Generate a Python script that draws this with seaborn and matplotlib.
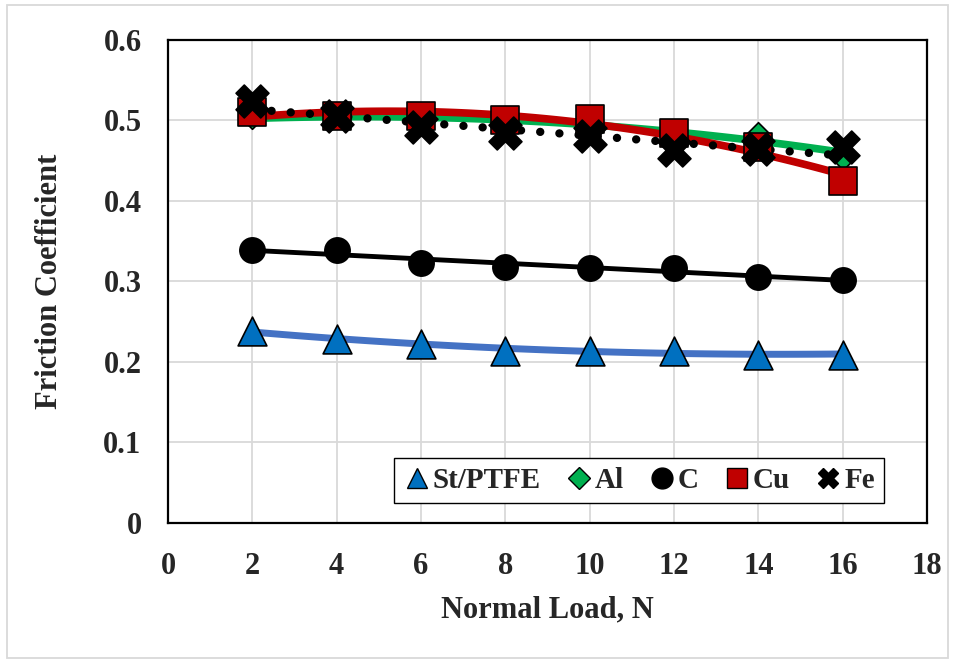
import numpy as np
import pandas as pd
import matplotlib.pyplot as plt
import seaborn as sns
from matplotlib.patches import Rectangle
from matplotlib.lines import Line2D

# data
load = [2, 4, 6, 8, 10, 12, 14, 16]
st_ptfe = [0.238, 0.229, 0.222, 0.214, 0.214, 0.214, 0.209, 0.209]
al = [0.505, 0.505, 0.498, 0.500, 0.497, 0.485, 0.482, 0.455]
c = [0.339, 0.339, 0.323, 0.318, 0.317, 0.317, 0.305, 0.302]
cu = [0.511, 0.506, 0.505, 0.501, 0.502, 0.484, 0.467, 0.425]
fe = [0.524, 0.505, 0.492, 0.484, 0.481, 0.463, 0.465, 0.467]

series = {"St/PTFE": st_ptfe, "Al": al, "C": c, "Cu": cu, "Fe": fe}
colors = {"St/PTFE": "#0070C0", "Al": "#00B050", "C": "#000000",
          "Cu": "#C00000", "Fe": "#000000"}
markers = {"St/PTFE": "^", "Al": "D", "C": "o", "Cu": "s", "Fe": "X"}
sizes = {"St/PTFE": 430, "Al": 170, "C": 330, "Cu": 380, "Fe": 560}

df = pd.concat([pd.DataFrame({"Load": load, "mu": v, "Material": k})
                for k, v in series.items()], ignore_index=True)

sns.set_style("white")
plt.rcParams["font.family"] = ["Liberation Serif", "DejaVu Serif"]
plt.rcParams["font.weight"] = "bold"

fig = plt.figure(figsize=(9.56, 6.63), dpi=100)
ax = fig.add_axes([0.1757, 0.2112, 0.7940, 0.7285])

# trendlines (Excel-style fits of each series)
xs = np.linspace(2, 16, 100)
trend = [("St/PTFE", 2, "#4472C4", "-", 5.0),
         ("C", 1, "#000000", "-", 3.5),
         ("Al", 2, "#00B050", "-", 5.5),
         ("Cu", 2, "#C00000", "-", 5.5),
         ("Fe", 1, "#000000", (0, (0.01, 2.3)), 6.0)]
for name, deg, col, ls, lw in trend:
    fit = np.polyval(np.polyfit(load, series[name], deg), xs)
    sns.lineplot(x=xs, y=fit, color=col, linewidth=lw, ax=ax, zorder=3)
    ln = ax.get_lines()[-1]
    ln.set_linestyle(ls)
    ln.set_dash_capstyle("round")
    ln.set_solid_capstyle("round")

for name in series:
    sns.scatterplot(data=df[df.Material == name], x="Load", y="mu",
                    marker=markers[name], s=sizes[name], color=colors[name],
                    edgecolor="black", linewidth=1.2, ax=ax, zorder=4)

ax.set_xlim(0, 18)
ax.set_ylim(0, 0.6)
ax.set_xticks(range(0, 19, 2))
ax.set_yticks(np.arange(0, 0.61, 0.1))
ax.set_yticklabels(["0", "0.1", "0.2", "0.3", "0.4", "0.5", "0.6"])
ax.grid(True, color="#D9D9D9", linewidth=1.3)
ax.set_axisbelow(True)
ax.tick_params(labelsize=22, length=0)
ax.tick_params(axis="x", pad=21)
ax.tick_params(axis="y", pad=19)
for lab in ax.get_xticklabels() + ax.get_yticklabels():
    lab.set_fontweight("bold")
for sp in ax.spines.values():
    sp.set_color("black")
    sp.set_linewidth(1.6)

ax.set_xlabel("Normal Load, N", fontsize=22, fontweight="bold", labelpad=10)
ax.set_ylabel("Friction Coefficient", fontsize=22, fontweight="bold", labelpad=28)

handles = [Line2D([], [], linestyle="none", marker=markers[k],
                  markerfacecolor=colors[k], markeredgecolor="black",
                  markersize=15 if k != "Al" else 11, label=k) for k in series]
ax.legend(handles=handles, loc="lower right", bbox_to_anchor=(0.962, 0.012),
          ncol=5, fancybox=False, edgecolor="black", framealpha=1,
          handletextpad=0.05, columnspacing=0.8, borderpad=0.3,
          handlelength=1.0, prop={"size": 21, "weight": "bold"})

fig.patches.append(Rectangle((0.007, 0.008), 0.985, 0.984, transform=fig.transFigure,
                             fill=False, edgecolor="#D9D9D9", linewidth=1.3))

plt.savefig("out.png", dpi=100)
